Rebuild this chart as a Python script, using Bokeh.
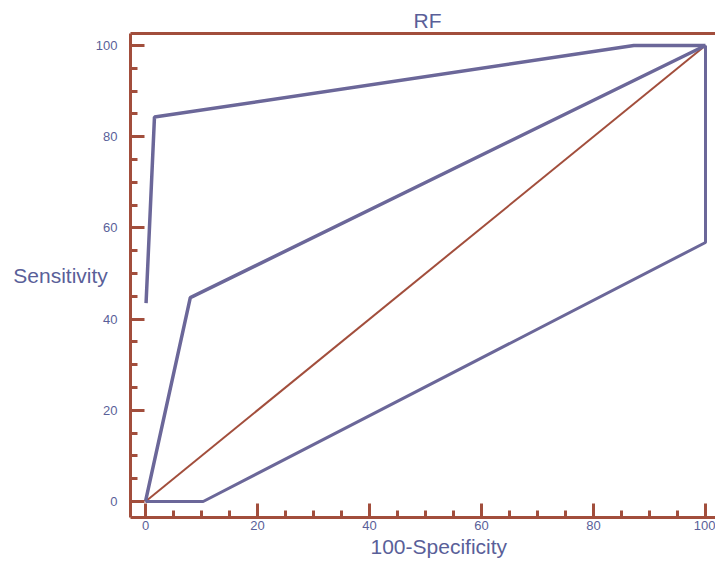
from bokeh.plotting import figure
from bokeh.models import Range1d, SingleIntervalTicker, LinearAxis, FixedTicker, Title
from bokeh.embed import file_html
from bokeh.resources import INLINE

# ROC curve and confidence bounds (100-Specificity, Sensitivity)
roc_x = [0, 8.0, 100]
roc_y = [0, 44.7, 100]
upper_x = [0.1, 1.6, 87.2, 100]
upper_y = [43.5, 84.3, 100, 100]
lower_x = [0, 10.3, 100, 100]
lower_y = [0, 0, 56.8, 100]
diag_x = [0, 100]
diag_y = [0, 100]

AX = "#a24e3c"
PUR = "#6b6799"
TXT = "#5a5f99"
FONT = "Liberation Sans"

p = figure(width=715, height=564, output_backend="svg", toolbar_location=None,
           x_range=Range1d(-2.68, 101.79), y_range=Range1d(-3.51, 102.63),
           min_border_left=130, min_border_right=0, min_border_top=33, min_border_bottom=47,
           title="RF", y_axis_label="Sensitivity")
p.outline_line_color = None
p.grid.visible = False
p.background_fill_color = "white"

p.title.align = "left"
p.title.offset = 283
p.title.standoff = 4
p.title.text_font = FONT
p.title.text_font_size = "21px"
p.title.text_font_style = "normal"
p.title.text_color = TXT

for ax in (p.xaxis[0], p.yaxis[0]):
    ax.ticker = SingleIntervalTicker(interval=20, num_minor_ticks=4)
    ax.axis_line_color = AX
    ax.axis_line_width = 3
    ax.major_tick_line_color = AX
    ax.major_tick_line_width = 3
    ax.minor_tick_line_color = AX
    ax.minor_tick_line_width = 3
    ax.major_tick_in = 14
    ax.major_tick_out = 0
    ax.minor_tick_in = 7
    ax.minor_tick_out = 0
    ax.major_label_text_font = FONT
    ax.major_label_text_font_size = "13px"
    ax.major_label_text_color = TXT
    ax.axis_label_text_font = FONT
    ax.axis_label_text_font_size = "21px"
    ax.axis_label_text_font_style = "normal"
    ax.axis_label_text_color = TXT

p.xaxis[0].major_label_standoff = 3
p.yaxis[0].major_label_standoff = 13
p.yaxis[0].major_label_text_baseline = "alphabetic"
p.yaxis[0].axis_label_orientation = "horizontal"
p.yaxis[0].axis_label_standoff = -15

top = LinearAxis(ticker=FixedTicker(ticks=[]), axis_line_color=AX, axis_line_width=3,
                 major_tick_out=0, minor_tick_out=0, major_tick_in=0, minor_tick_in=0,
                 major_label_standoff=0, major_label_text_font_size="0px")
p.add_layout(top, "above")

xtitle = Title(text="100-Specificity", align="left", offset=240, standoff=1,
               text_font=FONT, text_font_size="21px", text_font_style="normal",
               text_color=TXT)
p.add_layout(xtitle, "below")

p.line(diag_x, diag_y, line_color=AX, line_width=2)
p.line(roc_x, roc_y, line_color=PUR, line_width=3.5)
p.line(upper_x, upper_y, line_color=PUR, line_width=3.5)
p.line(lower_x, lower_y, line_color=PUR, line_width=3)

open("out.html", "w").write(file_html(p, INLINE))
